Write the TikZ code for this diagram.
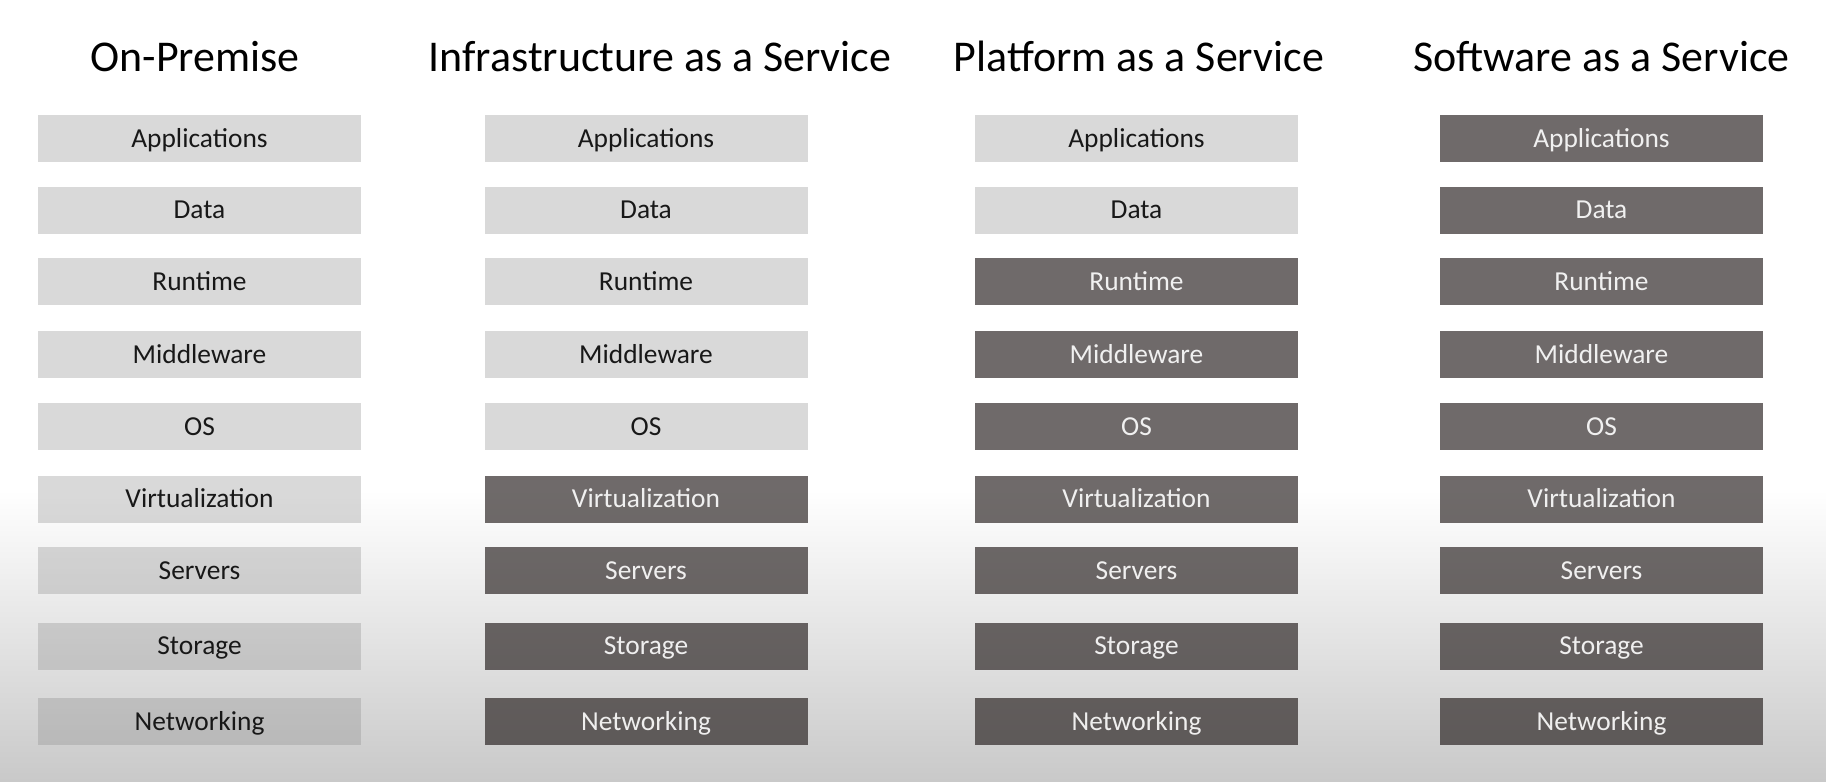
\documentclass[tikz,border=0pt]{standalone}
\usepackage{fontspec}
\setmainfont{Carlito}

\definecolor{litefill}{RGB}{135,135,135}
\definecolor{darkfill}{RGB}{30,23,22}
\definecolor{litetext}{RGB}{24,24,24}
\definecolor{bgbottom}{RGB}{201,201,201}

\begin{document}
\begin{tikzpicture}[x=1cm,y=1cm,
  layer/.style={minimum width=3.23cm,minimum height=0.47cm,inner sep=0pt,
    text height=0.23cm,text depth=0.06cm,font=\fontsize{7.8}{9}\selectfont},
  onsite/.style={layer,fill=litefill,fill opacity=0.31,text opacity=1,text=litetext},
  hosted/.style={layer,fill=darkfill,fill opacity=0.64,text opacity=0.9,text=white},
  heading/.style={anchor=base,font=\fontsize{12.5}{15}\selectfont}]
\useasboundingbox (0,0) rectangle (18.26,-7.81);
\fill[white] (0,0) rectangle (18.26,-4.9);
\shade[top color=white,bottom color=bgbottom] (0,-4.9) rectangle (18.26,-7.81);

% headings
\node[heading] (prem) at (1.95,-0.71) {On-Premise};
\node[heading] (iaas) at (6.60,-0.71) {Infrastructure as a Service};
\node[heading] (paas) at (11.39,-0.71) {Platform as a Service};
\node[heading] (saas) at (16.015,-0.71) {Software as a Service};

% on-premise
\node[onsite] (prem-apps) at (1.995,-1.385) {Applications};
\node[onsite] (prem-data) at (1.995,-2.10) {Data};
\node[onsite] (prem-run)  at (1.995,-2.815) {Runtime};
\node[onsite] (prem-mid)  at (1.995,-3.545) {Middleware};
\node[onsite] (prem-os)   at (1.995,-4.265) {OS};
\node[onsite] (prem-virt) at (1.995,-4.99) {Virtualization};
\node[onsite] (prem-srv)  at (1.995,-5.705) {Servers};
\node[onsite] (prem-sto)  at (1.995,-6.46) {Storage};
\node[onsite] (prem-net)  at (1.995,-7.215) {Networking};

% infrastructure
\node[onsite] (iaas-apps) at (6.46,-1.385) {Applications};
\node[onsite] (iaas-data) at (6.46,-2.10) {Data};
\node[onsite] (iaas-run)  at (6.46,-2.815) {Runtime};
\node[onsite] (iaas-mid)  at (6.46,-3.545) {Middleware};
\node[onsite] (iaas-os)   at (6.46,-4.265) {OS};
\node[hosted] (iaas-virt) at (6.46,-4.99) {Virtualization};
\node[hosted] (iaas-srv)  at (6.46,-5.705) {Servers};
\node[hosted] (iaas-sto)  at (6.46,-6.46) {Storage};
\node[hosted] (iaas-net)  at (6.46,-7.215) {Networking};

% platform
\node[onsite] (paas-apps) at (11.365,-1.385) {Applications};
\node[onsite] (paas-data) at (11.365,-2.10) {Data};
\node[hosted] (paas-run)  at (11.365,-2.815) {Runtime};
\node[hosted] (paas-mid)  at (11.365,-3.545) {Middleware};
\node[hosted] (paas-os)   at (11.365,-4.265) {OS};
\node[hosted] (paas-virt) at (11.365,-4.99) {Virtualization};
\node[hosted] (paas-srv)  at (11.365,-5.705) {Servers};
\node[hosted] (paas-sto)  at (11.365,-6.46) {Storage};
\node[hosted] (paas-net)  at (11.365,-7.215) {Networking};

% software
\node[hosted] (saas-apps) at (16.015,-1.385) {Applications};
\node[hosted] (saas-data) at (16.015,-2.10) {Data};
\node[hosted] (saas-run)  at (16.015,-2.815) {Runtime};
\node[hosted] (saas-mid)  at (16.015,-3.545) {Middleware};
\node[hosted] (saas-os)   at (16.015,-4.265) {OS};
\node[hosted] (saas-virt) at (16.015,-4.99) {Virtualization};
\node[hosted] (saas-srv)  at (16.015,-5.705) {Servers};
\node[hosted] (saas-sto)  at (16.015,-6.46) {Storage};
\node[hosted] (saas-net)  at (16.015,-7.215) {Networking};
\end{tikzpicture}
\end{document}
